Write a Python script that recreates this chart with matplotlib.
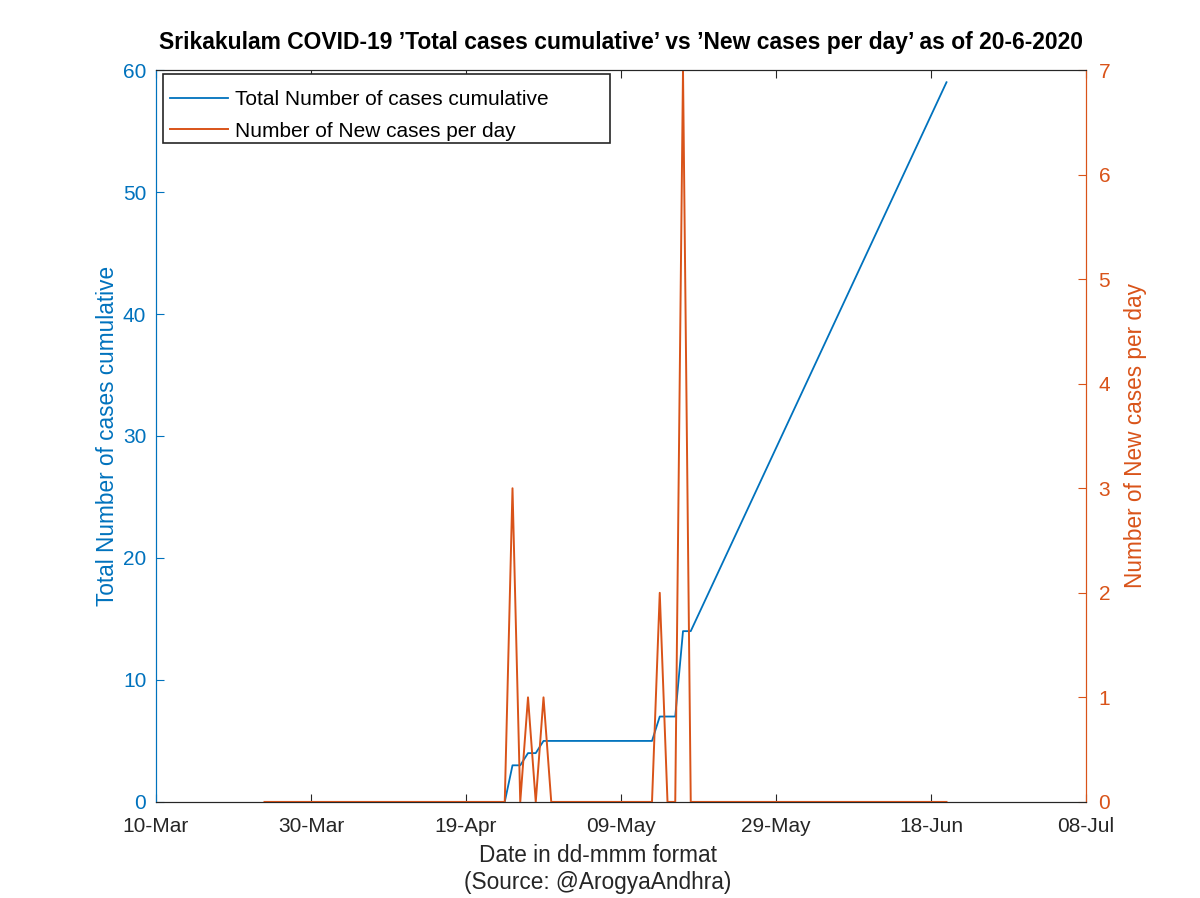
import matplotlib
matplotlib.use('Agg')
import matplotlib.pyplot as plt
import matplotlib.dates as mdates
from matplotlib.patches import Rectangle
import pandas as pd

plt.rcParams['font.family'] = ['Liberation Sans', 'DejaVu Sans']

# cumulative cases (blue), dates with reported totals
total_dates = ['2020-04-24', '2020-04-25', '2020-04-26', '2020-04-27', '2020-04-28',
               '2020-04-29', '2020-04-30', '2020-05-01', '2020-05-02', '2020-05-03',
               '2020-05-04', '2020-05-05', '2020-05-06', '2020-05-07', '2020-05-08',
               '2020-05-09', '2020-05-10', '2020-05-11', '2020-05-12', '2020-05-13',
               '2020-05-14', '2020-05-15', '2020-05-16', '2020-05-17', '2020-05-18',
               '2020-06-20']
total_cases = [0, 3, 3, 4, 4, 5, 5, 5, 5, 5, 5, 5, 5, 5, 5, 5, 5, 5, 5, 5,
               7, 7, 7, 14, 14, 59]

# new cases per day (orange), daily from 24-Mar to 20-Jun
new_start = '2020-03-24'
new_end = '2020-06-20'
new_cases = [0, 0, 0, 0, 0, 0, 0, 0,                    # 24-31 Mar
             0, 0, 0, 0, 0, 0, 0, 0, 0, 0, 0, 0, 0, 0, 0,
             0, 0, 0, 0, 0, 0, 0, 0,                    # 1-23 Apr
             0, 3, 0, 1, 0, 1, 0,                       # 24-30 Apr
             0, 0, 0, 0, 0, 0, 0, 0, 0, 0, 0, 0,         # 1-12 May
             0, 2, 0, 0, 7, 0,                          # 13-18 May
             0, 0, 0, 0, 0, 0, 0, 0, 0, 0, 0, 0, 0,      # 19-31 May
             0, 0, 0, 0, 0, 0, 0, 0, 0, 0, 0, 0, 0, 0, 0,
             0, 0, 0, 0, 0]                             # 1-20 Jun

xticks = ['2020-03-10', '2020-03-30', '2020-04-19', '2020-05-09',
          '2020-05-29', '2020-06-18', '2020-07-08']

blue = '#0072BD'
orange = '#D95319'
dark = '#262626'

fig = plt.figure(figsize=(12, 8.98), dpi=100)
ax = fig.add_axes([0.13, 0.107, 0.775, 0.815])
ax2 = ax.twinx()

l1, = ax.plot(pd.to_datetime(total_dates), total_cases, color=blue, lw=1.3,
              label='Total Number of cases cumulative')
l2, = ax2.plot(pd.date_range(new_start, new_end), new_cases, color=orange, lw=1.4,
               label='Number of New cases per day')

ax.set_xlim(pd.Timestamp('2020-03-10'), pd.Timestamp('2020-07-08'))
ax.set_ylim(0, 60)
ax2.set_ylim(0, 7)
ax.set_xticks(pd.to_datetime(xticks))
ax.xaxis.set_major_formatter(mdates.DateFormatter('%d-%b'))
ax.set_yticks(range(0, 61, 10))
ax2.set_yticks(range(0, 8))

ax.tick_params(axis='x', direction='in', top=True, length=6, labelsize=15,
               colors=dark, pad=11)
ax.tick_params(axis='y', direction='in', length=6, labelsize=15, colors=blue, pad=7)
ax2.tick_params(axis='y', direction='in', length=6, labelsize=15, colors=orange, pad=9)

for a in (ax, ax2):
    a.spines['top'].set_color(dark)
    a.spines['bottom'].set_color(dark)
    a.spines['left'].set_color(blue)
    a.spines['right'].set_color(orange)

ax.set_ylabel('Total Number of cases cumulative', color=blue, fontsize=16.3, labelpad=3)
ax2.set_ylabel('Number of New cases per day', color=orange, fontsize=16.3, labelpad=10)
ax.set_xlabel('Date in dd-mmm format\n(Source: @ArogyaAndhra)', color=dark,
              fontsize=16.3)
ax.xaxis.set_label_coords(0.475, -0.058)
ax.set_title('Srikakulam COVID-19 \u2019Total cases cumulative\u2019 vs \u2019New cases per day\u2019 as of 20-6-2020',
             fontsize=16.5, fontweight='bold', pad=15)

# legend box (MATLAB-style, wide frame) drawn separately
ax2.add_patch(Rectangle((7 / 930, 659 / 732), 447 / 930, 69 / 732,
                        transform=ax2.transAxes, facecolor='white',
                        edgecolor=dark, lw=1.2, zorder=5))
leg = ax2.legend(handles=[l1, l2], loc='upper left', fontsize=15, frameon=False,
                 borderaxespad=0, bbox_to_anchor=(7 / 930, 1 - 13 / 732),
                 handlelength=2.8, handletextpad=0.3, borderpad=0.34,
                 labelspacing=0.6)
leg.set_zorder(6)

fig.savefig('out.png', dpi=100)
